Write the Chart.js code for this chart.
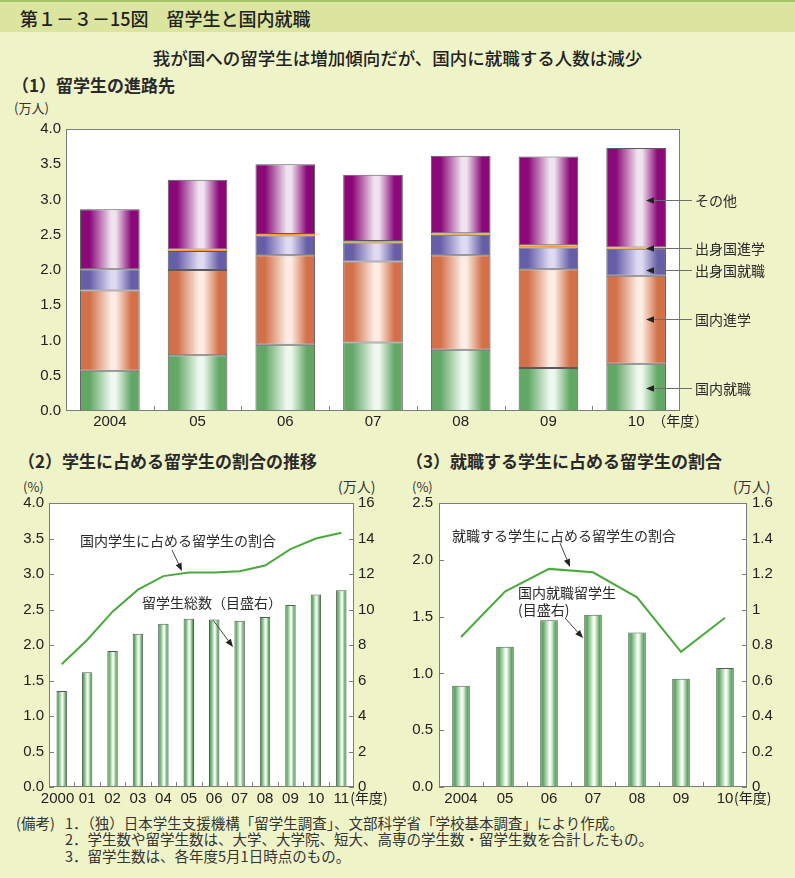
<!DOCTYPE html>
<html lang="ja">
<head>
<meta charset="utf-8">
<title>第1－3－15図 留学生と国内就職</title>
<script src="https://cdn.jsdelivr.net/npm/chart.js@4.4.1/dist/chart.umd.min.js"></script>
<style>
  html, body { margin: 0; padding: 0; }
  body {
    width: 795px; height: 878px; position: relative; overflow: hidden;
    background: #eff3c8; color: #222;
    font-family: "Noto Sans CJK JP", sans-serif;
  }
  .abs { position: absolute; white-space: nowrap; }
  #header { left: 0; top: 0; width: 795px; height: 30px; background: #dbe59f; border-top: 2px solid #a7c36a; }
  .sec { font-size: 17px; line-height: 17px; font-weight: 700; color: #2a2a2a; }
  .unit { font-size: 13px; line-height: 13px; color: #333; }
  .note { font-size: 14.5px; line-height: 15px; color: #333; }
  canvas { position: absolute; }
</style>
</head>
<body>
<div id="header" class="abs"></div>
<div class="abs" style="left:20px;top:9px;font-size:18px;line-height:18px;font-weight:500;">第１－３－15図　留学生と国内就職</div>
<div class="abs" style="left:0;top:49px;width:795px;text-align:center;font-size:17.5px;line-height:17px;font-weight:500;">我が国への留学生は増加傾向だが、国内に就職する人数は減少</div>
<div class="abs sec" style="left:12px;top:76px;">（1）留学生の進路先</div>
<div class="abs unit" style="left:14px;top:101px;">(万人)</div>

<div class="abs sec" style="left:18px;top:452px;">（2）学生に占める留学生の割合の推移</div>
<div class="abs unit" style="left:23px;top:480px;">(%)</div>
<div class="abs unit" style="left:338px;top:480px;font-size:14px;">(万人)</div>

<div class="abs sec" style="left:406px;top:452px;">（3）就職する学生に占める留学生の割合</div>
<div class="abs unit" style="left:412px;top:480px;">(%)</div>
<div class="abs unit" style="left:733px;top:480px;font-size:14px;">(万人)</div>

<canvas id="c1" width="795" height="320" style="left:0;top:115px;"></canvas>
<canvas id="c2" width="400" height="340" style="left:0;top:470px;"></canvas>
<canvas id="c3" width="400" height="340" style="left:395px;top:470px;"></canvas>

<div class="abs note" style="left:16px;top:815px;">(備考)</div>
<div class="abs note" style="left:65px;top:815px;">1．（独）日本学生支援機構「留学生調査」、文部科学省「学校基本調査」により作成。</div>
<div class="abs note" style="left:65px;top:831px;">2．学生数や留学生数は、大学、大学院、短大、高専の学生数・留学生数を合計したもの。</div>
<div class="abs note" style="left:65px;top:848px;">3．留学生数は、各年度5月1日時点のもの。</div>

<script>
// (1) 留学生の進路先（万人）
const years1 = ["2004", "05", "06", "07", "08", "09", "10"];
const domesticJob = [0.57, 0.79, 0.94, 0.97, 0.87, 0.61, 0.67];
const domesticStudy = [1.14, 1.21, 1.27, 1.15, 1.34, 1.40, 1.25];
const homeJob = [0.30, 0.27, 0.28, 0.27, 0.29, 0.31, 0.38];
const homeStudy = [0.00, 0.02, 0.02, 0.02, 0.02, 0.03, 0.02];
const others = [0.85, 0.99, 0.99, 0.94, 1.10, 1.26, 1.41];

// (2) 学生に占める留学生の割合の推移
const years2 = ["2000", "01", "02", "03", "04", "05", "06", "07", "08", "09", "10", "11"];
const totalStudents = [5.41, 6.46, 7.66, 8.64, 9.20, 9.48, 9.43, 9.37, 9.58, 10.25, 10.85, 11.08]; // 万人
const shareOfStudents = [1.73, 2.07, 2.47, 2.78, 2.97, 3.02, 3.02, 3.04, 3.12, 3.35, 3.50, 3.58]; // %

// (3) 就職する学生に占める留学生の割合
const years3 = ["2004", "05", "06", "07", "08", "09", "10"];
const employedStudents = [0.57, 0.79, 0.94, 0.97, 0.87, 0.61, 0.67]; // 万人
const shareOfEmployed = [1.32, 1.72, 1.92, 1.89, 1.67, 1.19, 1.49]; // %

const TICK_FONT = { family: '"Liberation Sans", "Noto Sans CJK JP", sans-serif', size: 15 };
const NOTE_FONT = '14px "Noto Sans CJK JP", sans-serif';
const LINE_GREEN = "#4aaa3c";

// cylinder-like shading across one bar
function cylinder(ctx, x0, x1, edge, light) {
  const g = ctx.createLinearGradient(x0, 0, x1, 0);
  g.addColorStop(0, edge);
  g.addColorStop(0.16, edge);
  g.addColorStop(0.52, light);
  g.addColorStop(0.6, light);
  g.addColorStop(0.86, edge);
  g.addColorStop(1, edge);
  return g;
}

function barFill(edge, light, pct) {
  return (c) => {
    const chart = c.chart;
    const xs = chart.scales.x;
    if (c.type !== "data" || !xs) return edge;
    const cx = xs.getPixelForValue(c.dataIndex);
    const half = (xs.width / chart.data.labels.length) * pct / 2;
    if (!isFinite(cx) || !isFinite(half) || half <= 0) return edge;
    return cylinder(chart.ctx, cx - half, cx + half, edge, light);
  };
}

function drawArrow(ctx, x0, y0, x1, y1, color) {
  const ang = Math.atan2(y1 - y0, x1 - x0);
  const len = 8, wid = 3.2;
  const bx = x1 - len * Math.cos(ang), by = y1 - len * Math.sin(ang);
  ctx.strokeStyle = color || "#444";
  ctx.lineWidth = 1;
  ctx.beginPath();
  ctx.moveTo(x0, y0);
  ctx.lineTo(bx, by);
  ctx.stroke();
  ctx.fillStyle = "#222";
  ctx.beginPath();
  ctx.moveTo(x1, y1);
  ctx.lineTo(bx + wid * Math.sin(ang), by - wid * Math.cos(ang));
  ctx.lineTo(bx - wid * Math.sin(ang), by + wid * Math.cos(ang));
  ctx.closePath();
  ctx.fill();
}

// white plot area, grey frame and inward ticks
const frame = {
  id: "frame",
  beforeDraw(chart) {
    const { ctx, chartArea: a } = chart;
    ctx.save();
    ctx.fillStyle = "#fff";
    ctx.fillRect(a.left, a.top, a.right - a.left, a.bottom - a.top);
    ctx.restore();
  },
  afterDatasetsDraw(chart, args, opts) {
    const { ctx, chartArea: a, scales } = chart;
    const L = 5;
    ctx.save();
    ctx.strokeStyle = "#7c7c7c";
    ctx.lineWidth = 1;
    ctx.strokeRect(Math.round(a.left) + 0.5, Math.round(a.top) + 0.5,
      Math.round(a.right - a.left) - 1, Math.round(a.bottom - a.top) - 1);
    ctx.beginPath();
    const xs = scales.x;
    const n = chart.data.labels.length;
    for (let i = 1; i < n; i++) {
      const px = Math.round((xs.getPixelForValue(i - 1) + xs.getPixelForValue(i)) / 2) + 0.5;
      ctx.moveTo(px, a.bottom);
      ctx.lineTo(px, a.bottom - L);
    }
    if (opts.yTicks) {
      ["y", "y1"].forEach((id) => {
        const s = scales[id];
        if (!s) return;
        s.ticks.forEach((t, i) => {
          const py = Math.round(s.getPixelForTick(i)) + 0.5;
          if (id === "y") { ctx.moveTo(a.left, py); ctx.lineTo(a.left + L, py); }
          else { ctx.moveTo(a.right, py); ctx.lineTo(a.right - L, py); }
        });
      });
    }
    ctx.stroke();
    ctx.restore();
  },
};

// annotations: free texts, arrows, side labels, "(年度)"
const notes = {
  id: "notes",
  afterDraw(chart, args, opts) {
    const { ctx, chartArea: a, scales } = chart;
    ctx.save();
    ctx.textBaseline = "middle";
    ctx.font = NOTE_FONT;
    (opts.texts || []).forEach((t) => {
      ctx.fillStyle = "#2a2a2a";
      ctx.fillText(t.text, t.x, t.y);
    });
    (opts.arrows || []).forEach((r) => drawArrow(ctx, r[0], r[1], r[2], r[3]));
    if (opts.side) {
      opts.side.items.forEach((it) => {
        const y = Math.round(scales.y.getPixelForValue(it.v)) + 0.5;
        drawArrow(ctx, opts.side.x - 3, y, opts.side.tip, y, "#6e6e6e");
        ctx.fillStyle = "#2a2a2a";
        ctx.fillText(it.text, opts.side.x, y);
      });
    }
    if (opts.suffix) {
      const xs = scales.x;
      const n = chart.data.labels.length;
      ctx.fillStyle = "#222";
      ctx.fillText(opts.suffix.text, xs.getPixelForValue(n - 1) + opts.suffix.dx, a.bottom + opts.suffix.dy);
    }
    ctx.restore();
  },
};

function fixWidth(w) { return (s) => { s.width = w; }; }
function fixHeight(h) { return (s) => { s.height = h; }; }

function xAxis(h, pad, cb) {
  const ticks = { color: "#222", font: TICK_FONT, padding: pad, autoSkip: false, maxRotation: 0, minRotation: 0 };
  if (cb) ticks.callback = cb;
  return {
    grid: { display: false, drawTicks: false },
    border: { display: false },
    ticks,
    afterFit: fixHeight(h),
  };
}

function yAxis(pos, w, min, max, step, fmt, pad) {
  return {
    position: pos,
    min, max,
    grid: { display: false, drawTicks: false },
    border: { display: false },
    ticks: { stepSize: step, color: "#222", font: TICK_FONT, padding: pad, callback: fmt },
    afterFit: fixWidth(w),
  };
}

const fmt1 = (v) => Number(v).toFixed(1);
const fmtPlain = (v) => String(Math.round(v * 10) / 10);

Chart.defaults.animation = false;
Chart.defaults.responsive = false;
Chart.defaults.plugins.legend.display = false;
Chart.defaults.plugins.tooltip.enabled = false;

// (1)
const P1 = 0.68;
function seg(label, data, edge, light) {
  return {
    label, data,
    backgroundColor: light ? barFill(edge, light, P1) : edge,
    borderColor: "#5a5a5a",
    borderWidth: light ? 1 : 0,
    borderSkipped: false,
    categoryPercentage: 1,
    barPercentage: P1,
  };
}

new Chart(document.getElementById("c1"), {
  type: "bar",
  data: {
    labels: years1,
    datasets: [
      seg("国内就職", domesticJob, "#62a765", "#eef8ee"),
      seg("国内進学", domesticStudy, "#d2704a", "#fcece3"),
      seg("出身国就職", homeJob, "#665fa7", "#dedaf2"),
      seg("出身国進学", homeStudy, "#ef9f35", null),
      seg("その他", others, "#8a0878", "#efe3ef"),
    ],
  },
  options: {
    layout: { padding: { left: 0, right: 115, top: 12, bottom: 0 } },
    scales: {
      x: Object.assign(xAxis(24, 2), { stacked: true }),
      y: Object.assign(yAxis("left", 66, 0, 4, 0.5, fmt1, 5), { stacked: true }),
    },
    plugins: {
      frame: { yTicks: false },
      notes: {
        side: {
          x: 695, tip: 646,
          items: [
            { text: "その他", v: 2.99 },
            { text: "出身国進学", v: 2.31 },
            { text: "出身国就職", v: 2.0 },
            { text: "国内進学", v: 1.31 },
            { text: "国内就職", v: 0.33 },
          ],
        },
        suffix: { text: "（年度）", dx: 16, dy: 10 },
      },
    },
  },
  plugins: [frame, notes],
});

// (2)
const P2 = 0.41;
new Chart(document.getElementById("c2"), {
  data: {
    labels: years2,
    datasets: [
      {
        type: "line", label: "国内学生に占める留学生の割合", data: shareOfStudents, yAxisID: "y",
        borderColor: LINE_GREEN, borderWidth: 2, pointRadius: 0, tension: 0, order: 0,
      },
      {
        type: "bar", label: "留学生総数", data: totalStudents, yAxisID: "y1",
        backgroundColor: barFill("#5fa862", "#f2faf2", P2), borderColor: "#4f5f4f", borderWidth: 1,
        borderSkipped: false, categoryPercentage: 1, barPercentage: P2, order: 1,
      },
    ],
  },
  options: {
    layout: { padding: { left: 0, right: 0, top: 33, bottom: 0 } },
    scales: {
      // first label sits a little left of its bar in the original
      x: xAxis(23, 3, (v, i) => (i === 0 ? years2[i] + "  " : years2[i])),
      y: yAxis("left", 49, 0, 4, 0.5, fmt1, 5),
      y1: yAxis("right", 46, 0, 16, 2, fmtPlain, 4),
    },
    plugins: {
      frame: { yTicks: true },
      notes: {
        texts: [
          { text: "国内学生に占める留学生の割合", x: 80, y: 71 },
          { text: "留学生総数（目盛右）", x: 142, y: 133 },
        ],
        arrows: [[172, 80, 182, 101], [213, 150, 233, 177]],
        suffix: { text: "(年度)", dx: 9, dy: 11 },
      },
    },
  },
  plugins: [frame, notes],
});

// (3)
const P3 = 0.40;
new Chart(document.getElementById("c3"), {
  data: {
    labels: years3,
    datasets: [
      {
        type: "line", label: "就職する学生に占める留学生の割合", data: shareOfEmployed, yAxisID: "y",
        borderColor: LINE_GREEN, borderWidth: 2, pointRadius: 0, tension: 0, order: 0,
      },
      {
        type: "bar", label: "国内就職留学生", data: employedStudents, yAxisID: "y1",
        backgroundColor: barFill("#5fa862", "#f2faf2", P3), borderColor: "#4f5f4f", borderWidth: 1,
        borderSkipped: false, categoryPercentage: 1, barPercentage: P3, order: 1,
      },
    ],
  },
  options: {
    layout: { padding: { left: 0, right: 0, top: 33, bottom: 0 } },
    scales: {
      x: xAxis(23, 3),
      y: yAxis("left", 44, 0, 2.5, 0.5, fmt1, 6),
      y1: yAxis("right", 48, 0, 1.6, 0.2, fmtPlain, 5),
    },
    plugins: {
      frame: { yTicks: true },
      notes: {
        texts: [
          { text: "就職する学生に占める留学生の割合", x: 57, y: 66 },
          { text: "国内就職留学生", x: 123, y: 123 },
          { text: "(目盛右)", x: 123, y: 140 },
        ],
        arrows: [[165, 73, 175, 97], [170, 148, 188, 168]],
        suffix: { text: "(年度)", dx: 9, dy: 11 },
      },
    },
  },
  plugins: [frame, notes],
});
</script>
</body>
</html>
